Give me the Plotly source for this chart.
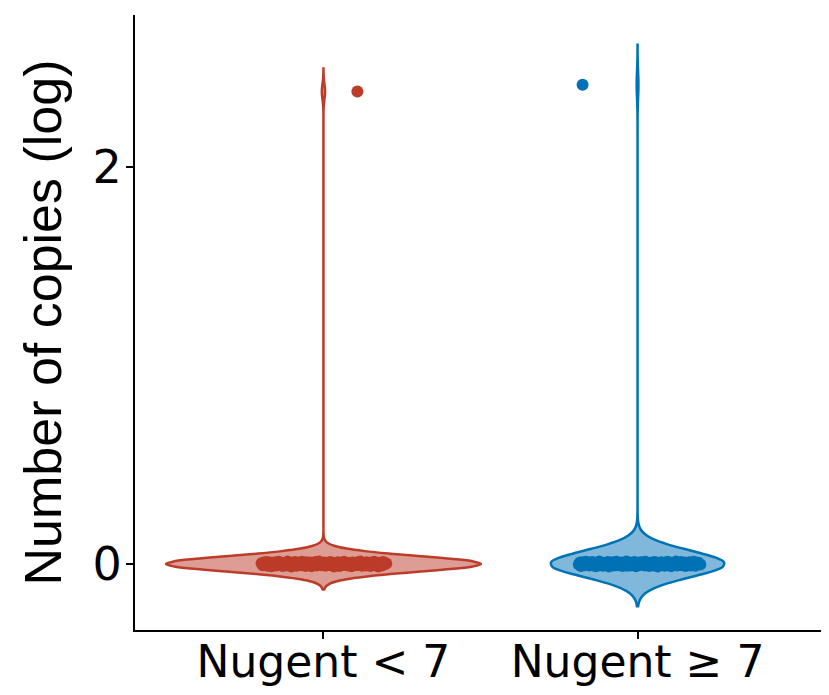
import plotly.graph_objects as go

# ---- data ----
categories = ["Nugent < 7", "Nugent ≥ 7"]
cat_pos = [0, 1]

# log copies: bulk of samples at ~0, one high outlier per group
red_bulk_y = [0.004, -0.006, 0.008, -0.002, 0.010, -0.009, 0.001, 0.007, -0.011, 0.003,
              -0.005, 0.009, -0.008, 0.002, 0.011, -0.003, 0.006, -0.010, 0.000, 0.005,
              -0.007, 0.012, -0.001, 0.004, -0.012, 0.008, -0.004, 0.010, -0.009, 0.002,
              0.006, -0.006, 0.011, -0.002, 0.003, -0.010, 0.009, -0.005, 0.001, 0.007,
              -0.011, 0.005, -0.003, 0.010, -0.008, 0.000, 0.012, -0.006, 0.004, -0.001,
              0.008, -0.009, 0.003, -0.004, 0.006, 0.010, -0.007, 0.002, -0.012, 0.005,
              -0.002, 0.009, -0.010, 0.001, 0.007, -0.005, 0.011, -0.003, 0.004, -0.008,
              0.000, 0.006, -0.011, 0.008, -0.001, 0.003, -0.006, 0.010, -0.004, 0.012,
              -0.009, 0.002, 0.005, -0.007, 0.009, -0.002, 0.001, -0.010, 0.007, -0.005,
              0.011, -0.003, 0.004, -0.012, 0.006, 0.000, -0.008, 0.010, -0.001, 0.003]
red_bulk_jitter = [-0.197, -0.193, -0.190, -0.185, -0.181, -0.178, -0.174, -0.170, -0.166, -0.161,
                   -0.158, -0.153, -0.150, -0.146, -0.142, -0.137, -0.134, -0.130, -0.126, -0.121,
                   -0.118, -0.114, -0.109, -0.106, -0.102, -0.097, -0.094, -0.090, -0.085, -0.082,
                   -0.078, -0.074, -0.069, -0.066, -0.062, -0.057, -0.054, -0.050, -0.045, -0.042,
                   -0.038, -0.033, -0.030, -0.026, -0.021, -0.018, -0.014, -0.009, -0.006, -0.002,
                   0.003, 0.006, 0.010, 0.015, 0.018, 0.022, 0.027, 0.030, 0.034, 0.039,
                   0.042, 0.046, 0.051, 0.054, 0.058, 0.063, 0.066, 0.070, 0.075, 0.078,
                   0.082, 0.087, 0.090, 0.094, 0.099, 0.102, 0.106, 0.111, 0.114, 0.118,
                   0.123, 0.126, 0.130, 0.135, 0.138, 0.142, 0.147, 0.150, 0.154, 0.159,
                   0.162, 0.166, 0.171, 0.174, 0.178, 0.183, 0.186, 0.190, 0.195, 0.200]
red_outlier_y = [2.38]
red_outlier_jitter = [0.108]

blue_bulk_y = [-0.003, 0.007, -0.010, 0.002, 0.009, -0.006, 0.011, -0.001, 0.005, -0.008,
               0.000, 0.010, -0.004, 0.006, -0.011, 0.003, -0.007, 0.012, -0.002, 0.008,
               -0.009, 0.004, 0.001, -0.005, 0.010, -0.012, 0.006, -0.003, 0.009, -0.008,
               0.002, 0.011, -0.006, 0.005, -0.001, 0.007, -0.010, 0.003, -0.004, 0.012,
               -0.009, 0.000, 0.008, -0.007, 0.004, -0.002, 0.010, -0.011, 0.006, 0.001,
               -0.005, 0.009, -0.003, 0.007, -0.008, 0.011, -0.002, 0.004, -0.010, 0.006,
               0.001, -0.007, 0.010, -0.004, 0.008, -0.012, 0.003, -0.001, 0.009, -0.006,
               0.005, -0.009, 0.002, 0.011, -0.003, 0.007, -0.011, 0.000, 0.004, -0.005,
               0.012, -0.008, 0.006, -0.002, 0.010, -0.006, 0.001, 0.008, -0.010, 0.003,
               -0.004, 0.009, -0.007, 0.005, -0.001, 0.011, -0.009, 0.002, 0.006, -0.003]
blue_bulk_jitter = [-0.187, -0.183, -0.180, -0.176, -0.172, -0.168, -0.164, -0.161, -0.156, -0.153,
                    -0.149, -0.145, -0.141, -0.137, -0.134, -0.129, -0.126, -0.122, -0.118, -0.114,
                    -0.110, -0.106, -0.103, -0.098, -0.095, -0.091, -0.087, -0.083, -0.079, -0.075,
                    -0.072, -0.067, -0.064, -0.060, -0.056, -0.052, -0.048, -0.044, -0.041, -0.036,
                    -0.033, -0.029, -0.025, -0.021, -0.017, -0.013, -0.010, -0.005, -0.002, 0.002,
                    0.006, 0.010, 0.014, 0.017, 0.022, 0.025, 0.029, 0.033, 0.037, 0.041,
                    0.045, 0.048, 0.053, 0.056, 0.060, 0.064, 0.068, 0.072, 0.076, 0.079,
                    0.084, 0.087, 0.091, 0.095, 0.099, 0.103, 0.107, 0.110, 0.115, 0.118,
                    0.122, 0.126, 0.130, 0.134, 0.138, 0.141, 0.146, 0.149, 0.153, 0.157,
                    0.161, 0.165, 0.169, 0.172, 0.177, 0.180, 0.184, 0.188, 0.194, 0.200]
blue_outlier_y = [2.415]
blue_outlier_jitter = [-0.175]

RED = "#BC3C29"
BLUE = "#0072B5"
RED_FILL = "rgba(188,60,41,0.5)"
BLUE_FILL = "rgba(0,114,181,0.5)"

fig = go.Figure()

groups = [
    (cat_pos[0], red_bulk_y + red_outlier_y, red_bulk_jitter + red_outlier_jitter,
     RED, RED_FILL, 0.0387, 1.003),
    (cat_pos[1], blue_bulk_y + blue_outlier_y, blue_bulk_jitter + blue_outlier_jitter,
     BLUE, BLUE_FILL, 0.067, 0.55),
]

for pos, ys, jit, col, fill, bw, width in groups:
    lo, hi = min(ys) - 3 * bw, max(ys) + 3 * bw
    fig.add_trace(go.Violin(
        x=[pos] * len(ys), y=ys,
        bandwidth=bw, spanmode="manual", span=[lo, hi],
        width=width, scalemode="width",
        line=dict(color=col, width=2.5), fillcolor=fill,
        points=False, box_visible=False, meanline_visible=False,
        hoverinfo="skip", showlegend=False,
    ))
    fig.add_trace(go.Scatter(
        x=[pos + j for j in jit], y=ys, mode="markers",
        marker=dict(color=col, size=12, line=dict(width=0)),
        showlegend=False, hoverinfo="skip",
    ))

TICK_FONT = dict(family="DejaVu Sans, sans-serif", size=44, color="black")

# page body has an 8px default margin: shrink the figure so it fits the window
fig.update_layout(
    width=821, height=687,
    margin=dict(l=127, r=3, t=7, b=65),
    plot_bgcolor="white", paper_bgcolor="white",
    font=dict(family="Liberation Sans, Arial, sans-serif", color="black"),
    violinmode="overlay",
    xaxis=dict(
        range=[-0.6, 1.6], tickvals=cat_pos, ticktext=categories,
        showline=True, linecolor="black", linewidth=2,
        ticks="outside", ticklen=7, tickwidth=2, tickcolor="black",
        tickfont=TICK_FONT, ticklabelstandoff=-15,
        showgrid=False, zeroline=False, automargin=False,
    ),
    yaxis=dict(
        range=[-0.3325, 2.766], tickvals=[0, 2], ticktext=["0", "2"],
        showline=True, linecolor="black", linewidth=2,
        ticks="outside", ticklen=7, tickwidth=2, tickcolor="black",
        tickfont=dict(family="DejaVu Sans, sans-serif", size=46, color="black"),
        ticklabelstandoff=-5,
        showgrid=False, zeroline=False, automargin=False,
        title=dict(text="Number of copies (log)", font=dict(size=52), standoff=14),
    ),
)

fig.write_html("out.html")
